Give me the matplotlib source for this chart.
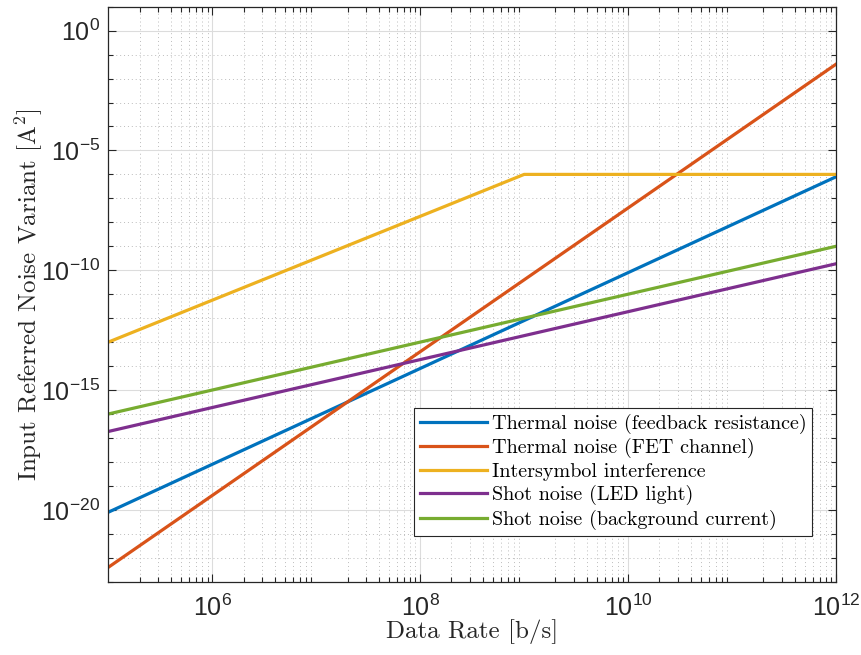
import matplotlib
matplotlib.use('Agg')
import matplotlib.pyplot as plt
import numpy as np
from matplotlib.ticker import LogLocator, FuncFormatter, NullFormatter

plt.rcParams['mathtext.fontset'] = 'custom'
plt.rcParams['mathtext.rm'] = 'cmr10'
plt.rcParams['mathtext.it'] = 'cmmi10'
plt.rcParams['mathtext.sf'] = 'Liberation Sans'
plt.rcParams['axes.unicode_minus'] = False

# data rate [b/s] at the end points (and knee) of each curve
rate = [1e5, 1e12]
rate_isi = [1e5, 1e9, 1e12]

# noise variance [A^2]
thermal_fb = [10 ** -20.1, 10 ** -6.1]
thermal_fet = [10 ** -22.4, 10 ** -1.4]
isi = [1e-13, 1e-6, 1e-6]
shot_led = [10 ** -16.73, 10 ** -9.73]
shot_bg = [1e-16, 1e-9]

labels = ['Thermal noise (feedback resistance)',
          'Thermal noise (FET channel)',
          'Intersymbol interference',
          'Shot noise (LED light)',
          'Shot noise (background current)']
colors = ['#0072BD', '#D95319', '#EDB120', '#7E2F8E', '#77AC30']

fig = plt.figure(figsize=(8.61, 6.55), dpi=100)
ax = fig.add_axes([0.1258, 0.1119, 0.8452, 0.8779])

ax.loglog(rate, thermal_fb, color=colors[0], lw=2.3, label=labels[0])
ax.loglog(rate, thermal_fet, color=colors[1], lw=2.3, label=labels[1])
ax.loglog(rate_isi, isi, color=colors[2], lw=2.3, label=labels[2])
ax.loglog(rate, shot_led, color=colors[3], lw=2.3, label=labels[3])
ax.loglog(rate, shot_bg, color=colors[4], lw=2.3, label=labels[4])

ax.set_xlim(1e5, 1e12)
ax.set_ylim(1e-23, 1e1)

ax.set_xticks([1e6, 1e8, 1e10, 1e12])
ax.xaxis.set_minor_locator(LogLocator(base=10, subs=np.arange(2, 10), numticks=50))
ax.set_yticks([1e-20, 1e-15, 1e-10, 1e-5, 1e0])
ax.yaxis.set_minor_locator(LogLocator(base=10, subs=(1.0,), numticks=50))
ax.xaxis.set_minor_formatter(NullFormatter())
ax.yaxis.set_minor_formatter(NullFormatter())

fmt = FuncFormatter(lambda v, p: r'$\mathsf{10^{%d}}$' % int(round(np.log10(v))))
ax.xaxis.set_major_formatter(fmt)
ax.yaxis.set_major_formatter(fmt)

ax.grid(True, which='major', color='#dcdcdc', lw=0.8, ls='-')
ax.grid(True, which='minor', color='#bcbcbc', lw=0.7, ls=(0, (1, 3)))
ax.set_axisbelow(True)

ax.tick_params(which='both', direction='in', top=True, right=True,
               colors='#262626', labelsize=18, width=0.8)
ax.tick_params(which='major', length=6)
ax.tick_params(which='minor', length=3.5)
ax.tick_params(axis='x', pad=9)
ax.tick_params(axis='y', pad=6)
for s in ax.spines.values():
    s.set_color('#262626')
    s.set_linewidth(0.9)

ax.set_xlabel('Data Rate [b/s]', family='cmr10', fontsize=18, color='#262626', labelpad=-1)
ax.set_ylabel('Input Referred Noise Variant [A$^2$]', family='cmr10', fontsize=18,
              color='#262626', labelpad=-3)

leg = ax.legend(loc='lower right', bbox_to_anchor=(0.9675, 0.0795), borderaxespad=0,
                prop={'family': 'cmr10', 'size': 14.5}, fancybox=False, framealpha=1,
                edgecolor='#262626', handlelength=3.3, handletextpad=0.25,
                labelspacing=0.22, borderpad=0.3)
leg.get_frame().set_linewidth(0.8)

fig.savefig('out.png', dpi=100)
